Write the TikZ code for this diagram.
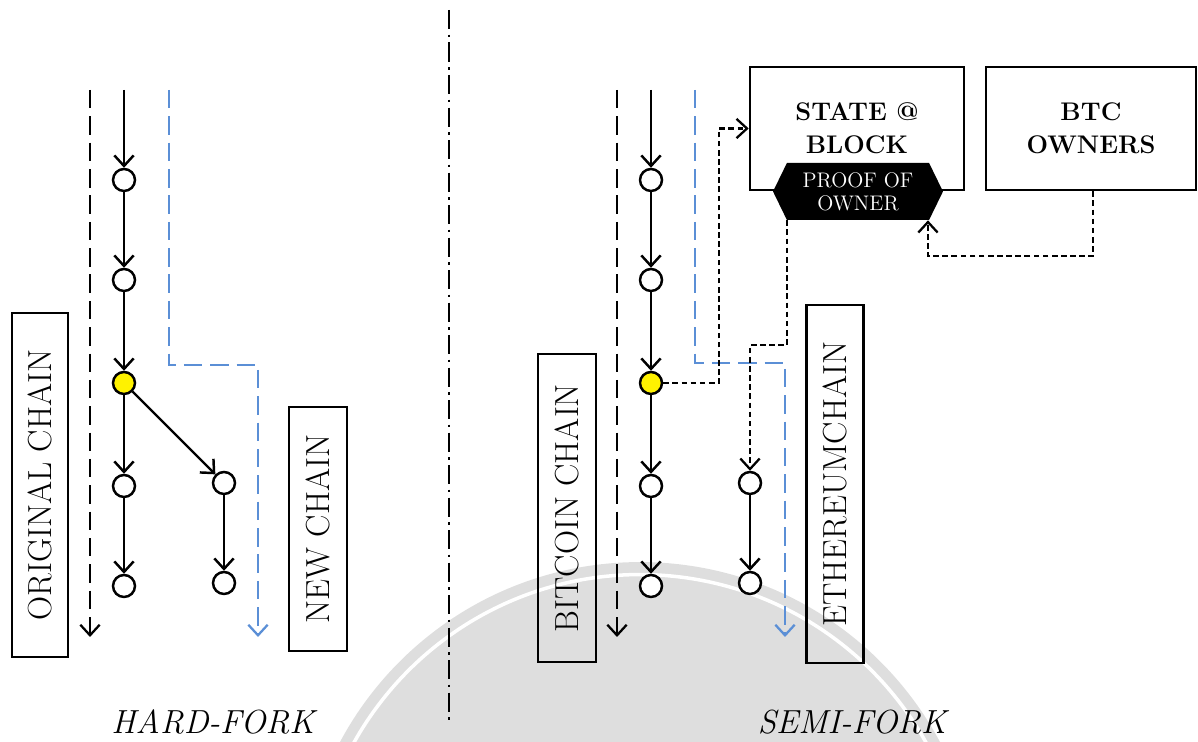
\documentclass[tikz,border=0pt]{standalone}
\usetikzlibrary{arrows.meta,shapes.symbols}
\definecolor{forkblue}{RGB}{91,143,214}
\definecolor{markgray}{RGB}{222,222,222}
\tikzset{
  >={Straight Barb[length=6pt,width=11pt]},
  blk/.style={circle,draw,line width=1.4pt,fill=white,minimum size=0.44cm,inner sep=0pt},
  forkblk/.style={blk,fill=yellow},
  chainlbl/.style={draw,line width=1.5pt,rotate=90,inner sep=0pt,font=\fontsize{19}{21}\selectfont},
  bigbox/.style={draw,line width=1.5pt,minimum height=2.46cm,align=center,font=\fontsize{14.5}{18.8}\selectfont\bfseries},
  longdash/.style={line width=1.3pt,dash pattern=on 10.5pt off 4.5pt},
  conn/.style={line width=1.3pt,dash pattern=on 3.2pt off 2pt},
  forktitle/.style={font=\fontsize{19}{21}\selectfont\itshape}
}
\begin{document}
\begin{tikzpicture}[x=0.02cm,y=-0.02cm]
                \useasboundingbox (0,0) rectangle (1198,742);
                % watermark
                \begin{scope}
                \clip (0,0) rectangle (1198,742);
                \fill[markgray] (640,902) circle (6.8cm);
                \draw[white,line width=2pt] (640,902) circle (6.55cm);
                \end{scope}
                % divider
                \coordinate (d1) at (449,10);
                \coordinate (d2) at (449,725);
                \draw[line width=1.3pt,dash pattern=on 11pt off 3pt on 1.5pt off 3pt] (d1) -- (d2);
                % hard fork
                \coordinate (hs1) at (90,90);
                \coordinate (hs2) at (90,637);
                \draw[longdash,->] (hs1) -- (hs2);
                \coordinate (hb1) at (169,90);
                \coordinate (hb2) at (258,637);
                \draw[longdash,forkblue,->] (hb1) -- (169,365) -| (hb2);
                \coordinate (htop) at (124,90);
                \foreach \n/\y in {1/180,2/280,4/486,5/586}
                \node[blk] (h\n) at (124,\y) {};
                \node[forkblk] (h3) at (124,383) {};
                \node[blk] (n1) at (224,483) {};
                \node[blk] (n2) at (224,583) {};
                \draw[line width=1.4pt,->] (htop) -- (h1);
                \foreach \i [count=\j from 2] in {1,...,4}
                \draw[line width=1.4pt,->] (h\i) -- (h\j);
                \draw[line width=1.4pt,->] (h3) -- (n1);
                \draw[line width=1.4pt,->] (n1) -- (n2);
                \node[chainlbl,minimum width=6.88cm,minimum height=1.12cm] (orig) at (40,485) {ORIGINAL CHAIN};
                \node[chainlbl,minimum width=4.88cm,minimum height=1.16cm] (newc) at (318,529) {NEW CHAIN};
                \node[forktitle] (hard) at (213,722) {HARD-FORK};
                % semi fork
                \coordinate (ss1) at (617,90);
                \coordinate (ss2) at (617,637);
                \draw[longdash,->] (ss1) -- (ss2);
                \coordinate (sb1) at (695,90);
                \coordinate (sb2) at (785,637);
                \draw[longdash,forkblue,->] (sb1) -- (695,363) -| (sb2);
                \coordinate (btop) at (651,90);
                \foreach \n/\y in {1/180,2/280,4/486,5/586}
                \node[blk] (b\n) at (651,\y) {};
                \node[forkblk] (b3) at (651,383) {};
                \node[blk] (e1) at (750,483) {};
                \node[blk] (e2) at (750,583) {};
                \draw[line width=1.4pt,->] (btop) -- (b1);
                \foreach \i [count=\j from 2] in {1,...,4}
                \draw[line width=1.4pt,->] (b\i) -- (b\j);
                \draw[line width=1.4pt,->] (e1) -- (e2);
                \node[chainlbl,minimum width=6.16cm,minimum height=1.16cm] (btcc) at (567,508) {BITCOIN CHAIN};
                \node[chainlbl,minimum width=7.16cm,minimum height=1.14cm] (ethc) at (835,484) {ETHEREUMCHAIN};
                \node[forktitle] (semi) at (852,722) {SEMI-FORK};
                \node[bigbox,minimum width=4.28cm] (state) at (857,128.5) {STATE @\\BLOCK};
                \node[bigbox,minimum width=4.2cm] (owners) at (1091,128.5) {BTC\\OWNERS};
                \node[signal,signal to=west and east,signal pointer angle=128,fill=black,text=white,
                      minimum width=3.4cm,minimum height=1.14cm,inner sep=0pt,align=center,
                      font=\fontsize{12}{13}\selectfont] (proof) at (858,191.5) {PROOF OF\\OWNER};
                \draw[conn,->] (b3) -- ++(68,0) |- (state.west);
                \draw[conn,->] ([xshift=-1.42cm]proof.south) -- ++(0,125) -| (e1);
                \draw[conn,->] ([xshift=0.04cm]owners.south) -- ++(0,65) -| ([xshift=1.4cm]proof.south);
            \end{tikzpicture}
\end{document}
